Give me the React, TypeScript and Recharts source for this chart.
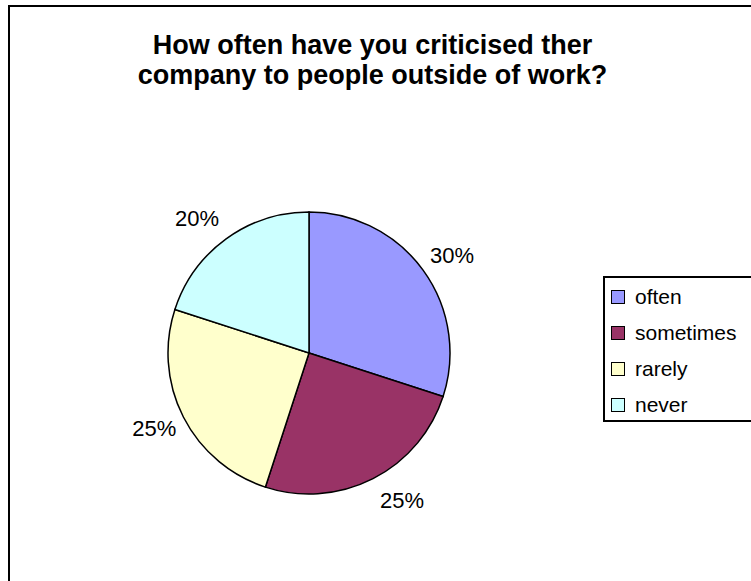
import { PieChart, Pie, Cell, Legend } from "recharts"

const categories = ["often", "sometimes", "rarely", "never"]
const shares = [30, 25, 25, 20]
const colors = ["#9999FF", "#993366", "#FFFFCC", "#CCFFFF"]

const data = categories.map((name, i) => ({ name, value: shares[i] }))

const RADIAN = Math.PI / 180
const FONT = "'Liberation Sans', Arial, sans-serif"

// labels sit just outside the rim, pushed out by roughly half their own box
const renderLabel = (props: any) => {
    const { cx, cy, midAngle, outerRadius, value } = props
    const c = Math.cos(-midAngle * RADIAN)
    const s = Math.sin(-midAngle * RADIAN)
    const x = cx + outerRadius * c + Math.sign(c) * 29
    const y = cy + outerRadius * s + s * 25
    return (
        <text x={x} y={y} fill="#000" textAnchor="middle" dominantBaseline="central" fontSize={22} fontFamily={FONT}>
            {`${value}%`}
        </text>
    )
}

const LegendBox = () => (
    <div
        style={{
            border: "2px solid #000",
            width: 170,
            height: 146,
            boxSizing: "border-box",
            background: "#fff",
            fontFamily: FONT,
            fontSize: 21,
            color: "#000",
            paddingTop: 1,
            overflow: "hidden",
        }}
    >
        {categories.map((name, i) => (
            <div key={name} style={{ display: "flex", alignItems: "center", height: 36, lineHeight: "24px" }}>
                <span
                    style={{
                        display: "inline-block",
                        width: 12,
                        height: 12,
                        background: colors[i],
                        border: "1px solid #000",
                        marginLeft: 6,
                        marginRight: 10,
                    }}
                />
                <span>{name}</span>
            </div>
        ))}
    </div>
)

export default function App() {
    return (
        <div style={{ position: "absolute", left: 0, top: 0, width: 751, height: 581, overflow: "hidden", background: "#fff" }}>
            <div
                style={{
                    position: "absolute",
                    left: 8,
                    top: 5,
                    width: 800,
                    height: 650,
                    border: "2px solid #000",
                }}
            />
            <div
                style={{
                    position: "absolute",
                    left: 0,
                    top: 30,
                    width: 745,
                    textAlign: "center",
                    fontFamily: FONT,
                    fontWeight: "bold",
                    fontSize: 27,
                    lineHeight: "30px",
                    color: "#000",
                }}
            >
                How often have you criticised ther
                <br />
                company to people outside of work?
            </div>
            <div style={{ position: "absolute", left: 0, top: 0 }}>
                <PieChart width={751} height={581}>
                    <Pie
                        data={data}
                        dataKey="value"
                        nameKey="name"
                        cx={304}
                        cy={348}
                        outerRadius={141}
                        startAngle={90}
                        endAngle={-270}
                        stroke="#000"
                        strokeWidth={1.5}
                        label={renderLabel}
                        labelLine={false}
                        isAnimationActive={false}
                    >
                        {data.map((d, i) => (
                            <Cell key={d.name} fill={colors[i]} />
                        ))}
                    </Pie>
                    <Legend
                        layout="vertical"
                        content={<LegendBox />}
                        wrapperStyle={{ position: "absolute", left: 603, top: 276, width: 170 }}
                    />
                </PieChart>
            </div>
        </div>
    )
}
